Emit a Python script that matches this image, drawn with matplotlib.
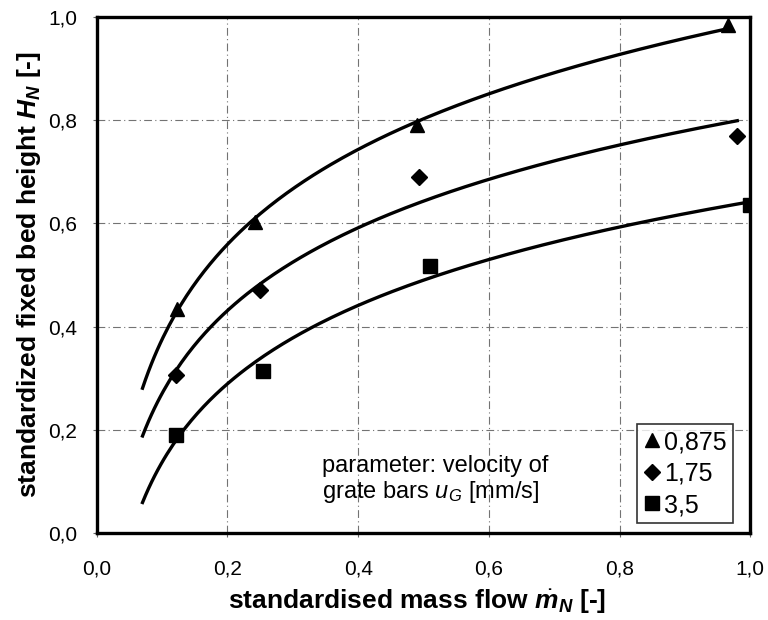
import numpy as np
import matplotlib
matplotlib.use("Agg")
import matplotlib.pyplot as plt

plt.rcParams['font.family'] = ['Liberation Sans', 'DejaVu Sans']
plt.rcParams['mathtext.fontset'] = 'custom'
plt.rcParams['mathtext.it'] = 'Liberation Sans:italic'
plt.rcParams['mathtext.bf'] = 'Liberation Sans:italic:bold'
plt.rcParams['mathtext.rm'] = 'Liberation Sans'

# measured points, one list per grate bar velocity
labels = ["0,875", "1,75", "3,5"]
markers = ["^", "D", "s"]
x_tri = [0.122, 0.242, 0.49, 0.966]
y_tri = [0.435, 0.603, 0.79, 0.984]
x_dia = [0.121, 0.25, 0.493, 0.98]
y_dia = [0.306, 0.471, 0.69, 0.769]
x_sq = [0.121, 0.254, 0.51, 1.0]
y_sq = [0.19, 0.314, 0.517, 0.636]

# log trendlines start a bit left of the first point
trend_start = 0.07

xticks = [0.0, 0.2, 0.4, 0.6, 0.8, 1.0]
yticks = [0.0, 0.2, 0.4, 0.6, 0.8, 1.0]


def fmt(v):
    return f"{v:.1f}".replace(".", ",")


fig = plt.figure(figsize=(7.68, 6.20), dpi=100)
ax = fig.add_axes([0.126, 0.140, 0.851, 0.833])

series = [(x_tri, y_tri), (x_dia, y_dia), (x_sq, y_sq)]
msizes = [10, 8, 10]
for (xs, ys), mk, lab, ms in zip(series, markers, labels, msizes):
    b, a = np.polyfit(np.log(xs), ys, 1)
    xc = np.linspace(trend_start, max(xs), 200)
    ax.plot(xc, a + b * np.log(xc), color="black", lw=2.4, zorder=3)
    ax.plot(xs, ys, mk, color="black", ms=ms, label=lab, zorder=4)

ax.set_xlim(0, 1.0)
ax.set_ylim(0, 1.0)
ax.set_xticks(xticks)
ax.set_yticks(yticks)
ax.set_xticklabels([fmt(v) for v in xticks])
ax.set_yticklabels([fmt(v) for v in yticks])
ax.tick_params(axis="both", labelsize=15, length=3, width=0.8, color="0.4")
ax.tick_params(axis="x", pad=16)
ax.tick_params(axis="y", pad=11)

ax.grid(True, color="0.45", lw=0.8, linestyle=(0, (7, 3, 1, 3)))
for s in ax.spines.values():
    s.set_linewidth(2.4)
    s.set_color("black")

ax.set_xlabel(r"standardised mass flow $\dot{\mathbf{m}}_{\mathbf{N}}$ [-]",
              fontsize=19, fontweight="bold", labelpad=0)
ax.xaxis.set_label_coords(0.49, -0.105)
ax.set_ylabel(r"standardized fixed bed height $\mathbf{H}_{\mathbf{N}}$ [-]",
              fontsize=19, fontweight="bold", labelpad=4)

ax.text(0.345, 0.103, "parameter: velocity of\ngrate bars $u_G$ [mm/s]",
        transform=ax.transAxes, fontsize=17, va="center", ha="left",
        linespacing=1.15)

leg = ax.legend(loc="lower right", bbox_to_anchor=(0.974, 0.019),
                borderaxespad=0, fontsize=18, frameon=True, fancybox=False,
                handlelength=0.7, handletextpad=0.15, borderpad=0.25,
                labelspacing=0.3, markerscale=1.0)
leg.get_frame().set_edgecolor("black")
leg.get_frame().set_linewidth(1.2)

fig.savefig("out.png", dpi=100)
